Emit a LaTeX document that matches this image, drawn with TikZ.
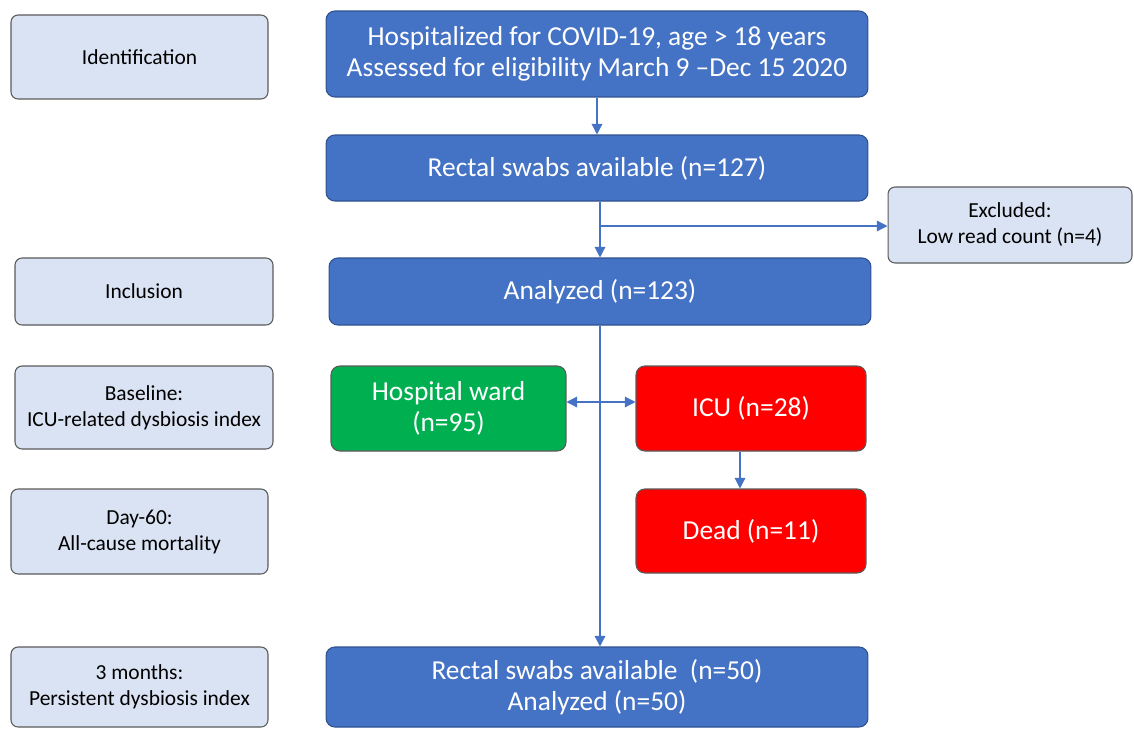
\documentclass[tikz,border=0pt]{standalone}
\usepackage{fontspec}
\setmainfont{Carlito}
\usetikzlibrary{arrows.meta}
\definecolor{flowblue}{HTML}{4472C4}
\definecolor{flowline}{HTML}{2F528F}
\definecolor{stagefill}{HTML}{DAE3F3}
\definecolor{stageline}{HTML}{5A5A5A}
\definecolor{wardgreen}{HTML}{00B050}
\definecolor{icured}{HTML}{FF0000}
\tikzset{
  stage/.style={draw=stageline, fill=stagefill, rounded corners=4pt, align=center,
    font=\fontsize{12.2}{14.8}\selectfont, inner sep=0pt, line width=0.6pt},
  flow/.style={draw=flowline, fill=flowblue, rounded corners=5pt, text=white, align=center,
    font=\fontsize{15.6}{17.8}\selectfont, inner sep=0pt, line width=0.6pt},
  link/.style={draw=flowblue, line width=0.7pt, -{Triangle[width=6pt,length=6pt]}},
}
\begin{document}
\begin{tikzpicture}[x=0.02cm,y=-0.02cm]
  \useasboundingbox (0,0) rectangle (1134,728);
  % stages on the left
  \node[stage, minimum width=5.14cm, minimum height=1.68cm] (ident) at (139.5,57) {Identification};
  \node[stage, minimum width=5.16cm, minimum height=1.34cm] (incl) at (144,291.5) {Inclusion};
  \node[stage, minimum width=5.16cm, minimum height=1.66cm] (base) at (144,407.5) {Baseline:\\ICU-related dysbiosis index};
  \node[stage, minimum width=5.14cm, minimum height=1.7cm] (day) at (139.5,531.5) {Day-60:\\All-cause mortality};
  \node[stage, minimum width=5.14cm, minimum height=1.6cm] (three) at (139.5,687) {3 months:\\Persistent dysbiosis index};
  % flow
  \node[flow, minimum width=10.84cm, minimum height=1.72cm] (hosp) at (597,54) {Hospitalized for COVID-19, age > 18 years\\Assessed for eligibility March 9 --Dec 15 2020};
  \node[flow, minimum width=10.84cm, minimum height=1.32cm] (swabs) at (597,168) {Rectal swabs available (n=127)};
  \node[stage, minimum width=4.88cm, minimum height=1.52cm] (excl) at (1010,225) {Excluded:\\Low read count (n=4)};
  \node[flow, minimum width=10.84cm, minimum height=1.34cm] (anal) at (600,291.5) {Analyzed (n=123)};
  \node[flow, fill=wardgreen, draw=stageline, minimum width=4.7cm, minimum height=1.7cm] (ward) at (448.5,408.5) {Hospital ward\\(n=95)};
  \node[flow, fill=icured, draw=stageline, minimum width=4.6cm, minimum height=1.7cm] (icu) at (751,408.5) {ICU (n=28)};
  \node[flow, fill=icured, draw=stageline, minimum width=4.6cm, minimum height=1.68cm] (dead) at (751,531) {Dead (n=11)};
  \node[flow, minimum width=10.84cm, minimum height=1.6cm] (final) at (597,687) {Rectal swabs available~ (n=50)\\Analyzed (n=50)};
  % connectors
  \draw[link] (hosp.south) -- (swabs.north);
  \draw[link] (swabs.south -| anal.north) -- (anal.north);
  \coordinate (br) at (600,226);
  \draw[link] (br) -- (br -| excl.west);
  \draw[link] (anal.south) -- (anal.south |- final.north);
  \coordinate (mid) at (600,402);
  \draw[link, {Triangle[width=6pt,length=6pt]}-{Triangle[width=6pt,length=6pt]}] (mid -| ward.east) -- (mid -| icu.west);
  \draw[link] ([xshift=-0.22cm]icu.south) -- ([xshift=-0.22cm]dead.north);
\end{tikzpicture}
\end{document}
